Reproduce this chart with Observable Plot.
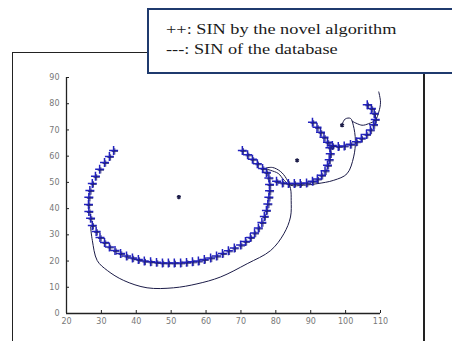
<!DOCTYPE html>
<html>
<head>
<meta charset="utf-8">
<script src="https://cdn.jsdelivr.net/npm/d3@7"></script>
<script src="https://cdn.jsdelivr.net/npm/@observablehq/plot@0.6"></script>
<style>
  html, body { margin: 0; padding: 0; background: #fff; }
  #wrap { position: relative; width: 452px; height: 341px; overflow: hidden; background: #fff; }
  #frame { position: absolute; left: 12px; top: 52px; width: 410px; height: 288px;
           border-left: 1.5px solid #222; border-top: 1.5px solid #222; border-right: 2px solid #222;
           border-bottom: 1px solid #c8c8c8; }
  #chart { position: absolute; left: 0; top: 0; }
  #legend { position: absolute; left: 147px; top: 8px; width: 320px; height: 66px;
            border: 2px solid #1f3a6e; background: #fff;
            font-family: "Liberation Serif", "Times New Roman", serif; font-size: 15.5px; color: #1a1a1a;
            box-sizing: border-box; }
  #legend div { position: absolute; left: 17px; white-space: nowrap;
                transform: scaleX(1.18); transform-origin: left center; line-height: 20px; }
</style>
</head>
<body>
<div id="wrap">
  <div id="frame"></div>
  <div id="chart"></div>
  <div id="legend">
    <div style="top: 9px">++: SIN by the novel algorithm</div>
    <div style="top: 29px">---: SIN of the database</div>
  </div>
</div>
<script>
// axis domains and ticks
const xDomain = [20, 110];
const yDomain = [0, 90];
const xTicks = [20, 30, 40, 50, 60, 70, 80, 90, 100, 110];
const yTicks = [0, 10, 20, 30, 40, 50, 60, 70, 80, 90];

// "++" : SIN by the novel algorithm (marker chain)
const arcA = [
  [33.5,62.2],[32.3,59.9],[30.9,57.6],[29.5,55.0],[28.3,52.3],[27.4,49.6],[26.7,46.9],[26.4,44.3],
  [26.3,41.6],[26.4,38.9],[26.9,36.3],[27.4,33.6],[28.5,31.3],[29.6,29.0],[30.9,27.1],[32.3,25.4],
  [33.9,24.0],[35.5,22.9],[37.2,21.9],[38.9,21.2],[40.6,20.6],[42.3,20.0],[44.1,19.7],[45.8,19.5],
  [47.5,19.3],[49.2,19.3],[50.9,19.3],[52.7,19.3],[54.4,19.5],[56.1,19.7],[57.8,20.0],[59.5,20.6],
  [61.3,21.2],[63.0,21.9],[64.7,22.9],[66.4,23.9],[68.1,25.0],[69.9,26.1],[71.3,27.5],[72.7,29.0],
  [73.9,30.7],[75.0,32.6],[76.0,34.7],[76.7,37.0],[77.3,39.3],[77.7,41.8],[78.0,44.3],[78.2,46.8],
  [78.2,49.2],[78.0,51.7],[77.3,53.8],[76.2,55.3],[74.7,57.1],[73.3,58.8],[71.9,60.5],[70.4,62.2]
];
const arcB = [
  [80.2,50.4],[81.9,49.8],[83.6,49.6],[85.3,49.6],[87.0,49.6],[88.8,49.8],[90.5,50.4],[91.9,51.3],
  [93.1,52.7],[94.1,54.4],[94.8,56.5],[95.3,58.6],[95.6,60.9],[95.5,63.2],[94.8,65.3],[93.8,67.2],
  [92.8,69.1],[91.8,71.0],[90.5,72.9]
];
const arcC = [
  [96.2,64.1],[97.9,63.7],[99.6,63.9],[101.4,64.5],[103.1,65.5],[104.5,66.8],[106.0,68.3],[107.1,70.0],
  [108.0,72.0],[108.5,74.0],[108.2,76.3],[107.4,78.2],[106.2,79.6]
];

// "---" : SIN of the database (thin line)
const dbMain = [
  [26.9,32.9],[27.4,27.9],[28.8,20.2],[31.7,16.4],[36.4,12.6],[43.1,9.8],[50.7,9.8],[57.4,11.3],
  [64.1,13.9],[71.8,19.0],[78.5,24.0],[82.3,30.4],[84.2,36.8],[84.4,43.1],[84.2,47.7],[83.0,51.5],
  [81.3,54.2],[79.0,55.7],[77.0,55.3],[78.5,54.6],[80.7,53.4],[82.4,50.8],[84.2,48.9],[87.9,48.9],
  [91.8,49.5],[96.6,50.8],[100.4,53.3],[102.3,59.7],[102.8,66.0],[102.2,71.8],[101.4,74.4],[99.9,74.2],
  [99.1,72.5]
];
const dbBranch = [
  [101.9,73.3],[104.7,71.8],[106.6,72.4],[108.5,73.7],[109.5,76.8],[110.0,80.6],[109.5,84.5]
];

// centres (small stars)
const centres = [[52.2,44.4],[86.1,58.4],[99.0,71.8]];

const toRows = (arr, seg) => arr.map(([x, y]) => ({x, y, seg}));
const plusRows = [...toRows(arcA, "A"), ...toRows(arcB, "B"), ...toRows(arcC, "C")];
const lineRows = [...toRows(dbMain, "main"), ...toRows(dbBranch, "branch")];
const centreRows = toRows(centres, "c");

const chart = Plot.plot({
  width: 452,
  height: 341,
  marginLeft: 66,
  marginRight: 72,
  marginTop: 77,
  marginBottom: 28,
  style: {background: "transparent", fontFamily: "DejaVu Sans, sans-serif", overflow: "visible"},
  x: {domain: xDomain, label: null},
  y: {domain: yDomain, label: null},
  marks: [
    Plot.axisX({ticks: xTicks, label: null, tickSize: -3, tickPadding: 8, fontSize: 8, color: "#777", stroke: "#222", tickFormat: d => String(d)}),
    Plot.axisY({ticks: yTicks, label: null, tickSize: -3, tickPadding: 10, fontSize: 8, color: "#777", stroke: "#222", tickFormat: d => String(d)}),
    Plot.ruleX([xDomain[0]], {stroke: "#222", strokeWidth: 1.3}),
    Plot.ruleY([yDomain[0]], {stroke: "#222", strokeWidth: 1.3}),
    Plot.line(lineRows, {x: "x", y: "y", z: "seg", stroke: "#1c1c48", strokeWidth: 1, curve: "catmull-rom"}),
    Plot.dot(plusRows, {x: "x", y: "y", symbol: "plus", r: 3, stroke: "#2222c0", strokeWidth: 1.5}),
    Plot.dot(plusRows, {x: "x", y: "y", symbol: "plus", r: 2.2, stroke: "#1a1a70", strokeWidth: 0.8, dx: 1.2, dy: 1}),
    Plot.dot(centreRows, {x: "x", y: "y", symbol: "asterisk", r: 2, stroke: "#1c1c48", strokeWidth: 1.5})
  ]
});
document.getElementById("chart").appendChild(chart);
</script>
</body>
</html>
